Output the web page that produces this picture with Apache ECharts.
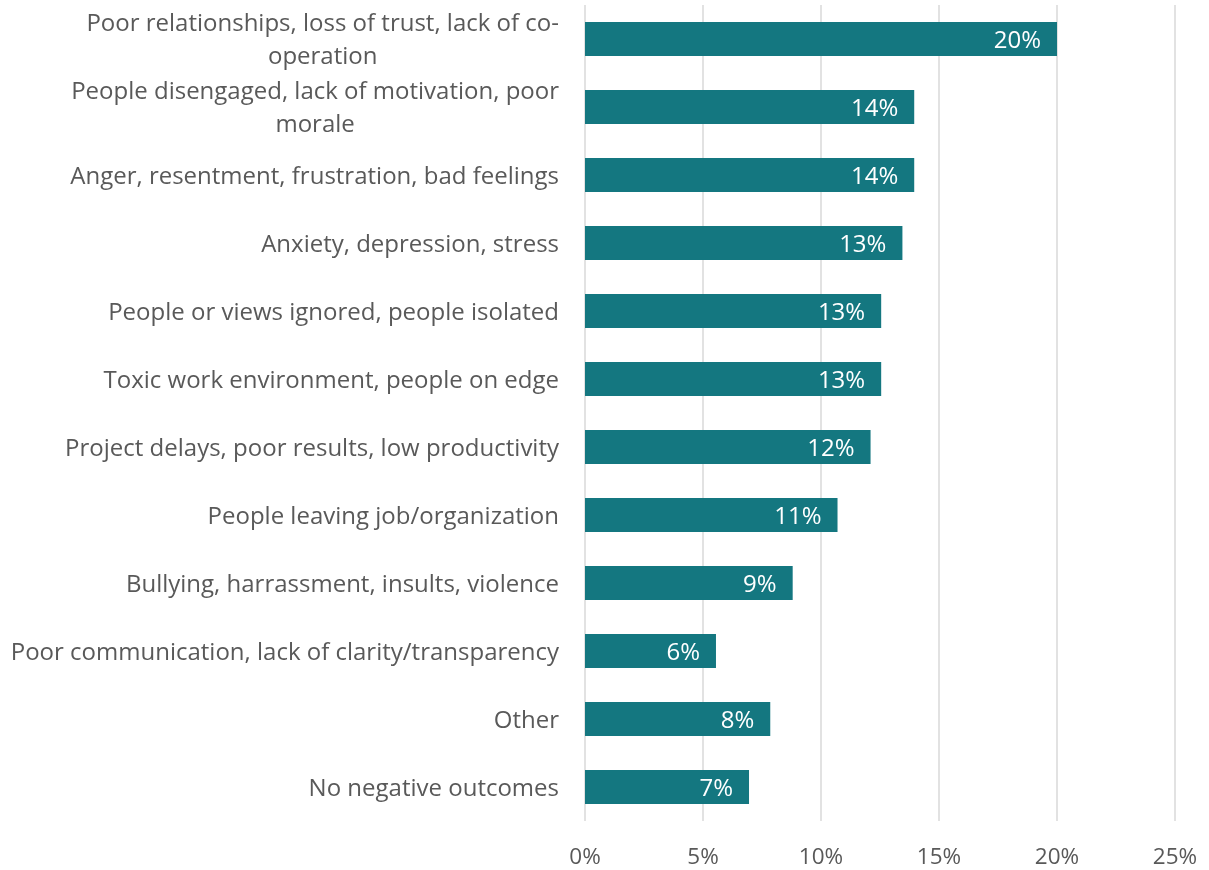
<!DOCTYPE html>
<html>
<head>
<meta charset="utf-8">
<script src="https://cdn.jsdelivr.net/npm/echarts@6/dist/echarts.min.js"></script>
<style>
html, body { margin: 0; padding: 0; background: #fff; }
#main { width: 1209px; height: 870px; }
</style>
</head>
<body>
<div id="main"></div>
<script>
var categories = [
    'Poor relationships, loss of trust, lack of co-\noperation',
    'People disengaged, lack of motivation, poor\nmorale',
    'Anger, resentment, frustration, bad feelings',
    'Anxiety, depression, stress',
    'People or views ignored, people isolated',
    'Toxic work environment, people on edge',
    'Project delays, poor results, low productivity',
    'People leaving job/organization',
    'Bullying, harrassment, insults, violence',
    'Poor communication, lack of clarity/transparency',
    'Other',
    'No negative outcomes'
];
var values = [20.0, 13.95, 13.95, 13.45, 12.55, 12.55, 12.1, 10.7, 8.8, 5.55, 7.85, 6.95];

var textColor = '#595959';
var font = 'Open Sans';

var myChart = echarts.init(document.getElementById('main'));

option = {
    backgroundColor: '#fff',
    animation: false,
    grid: {
        left: 585,
        right: 34,
        top: 5,
        bottom: 49,
        containLabel: false
    },
    xAxis: {
        type: 'value',
        min: 0,
        max: 25,
        interval: 5,
        axisLine: { show: false },
        axisTick: { show: false },
        axisLabel: {
            formatter: '{value}%',
            color: textColor,
            fontFamily: font,
            fontSize: 22.5,
            margin: 25
        },
        splitLine: {
            show: true,
            lineStyle: { color: '#e2e2e2', width: 2 }
        }
    },
    yAxis: {
        type: 'category',
        inverse: true,
        data: categories,
        axisLine: { show: false },
        axisTick: { show: false },
        axisLabel: {
            margin: 26,
            padding: [4, 0, 0, 0],
            color: textColor,
            fontFamily: font,
            fontSize: 24,
            formatter: function (v) {
                return v.split('\n').map(function (l) { return '{c|' + l + '}'; }).join('\n');
            },
            rich: {
                c: {
                    align: 'center',
                    color: textColor,
                    fontFamily: font,
                    fontSize: 24,
                    lineHeight: 33
                }
            }
        }
    },
    series: [
        {
            type: 'bar',
            data: values,
            barWidth: '50%',
            itemStyle: { color: '#147780' },
            label: {
                show: true,
                position: 'insideRight',
                distance: 16,
                offset: [0, 2],
                color: '#fff',
                fontFamily: font,
                fontSize: 24,
                formatter: function (p) { return Math.round(p.value) + '%'; }
            }
        }
    ]
};
myChart.setOption(option);
</script>
</body>
</html>
